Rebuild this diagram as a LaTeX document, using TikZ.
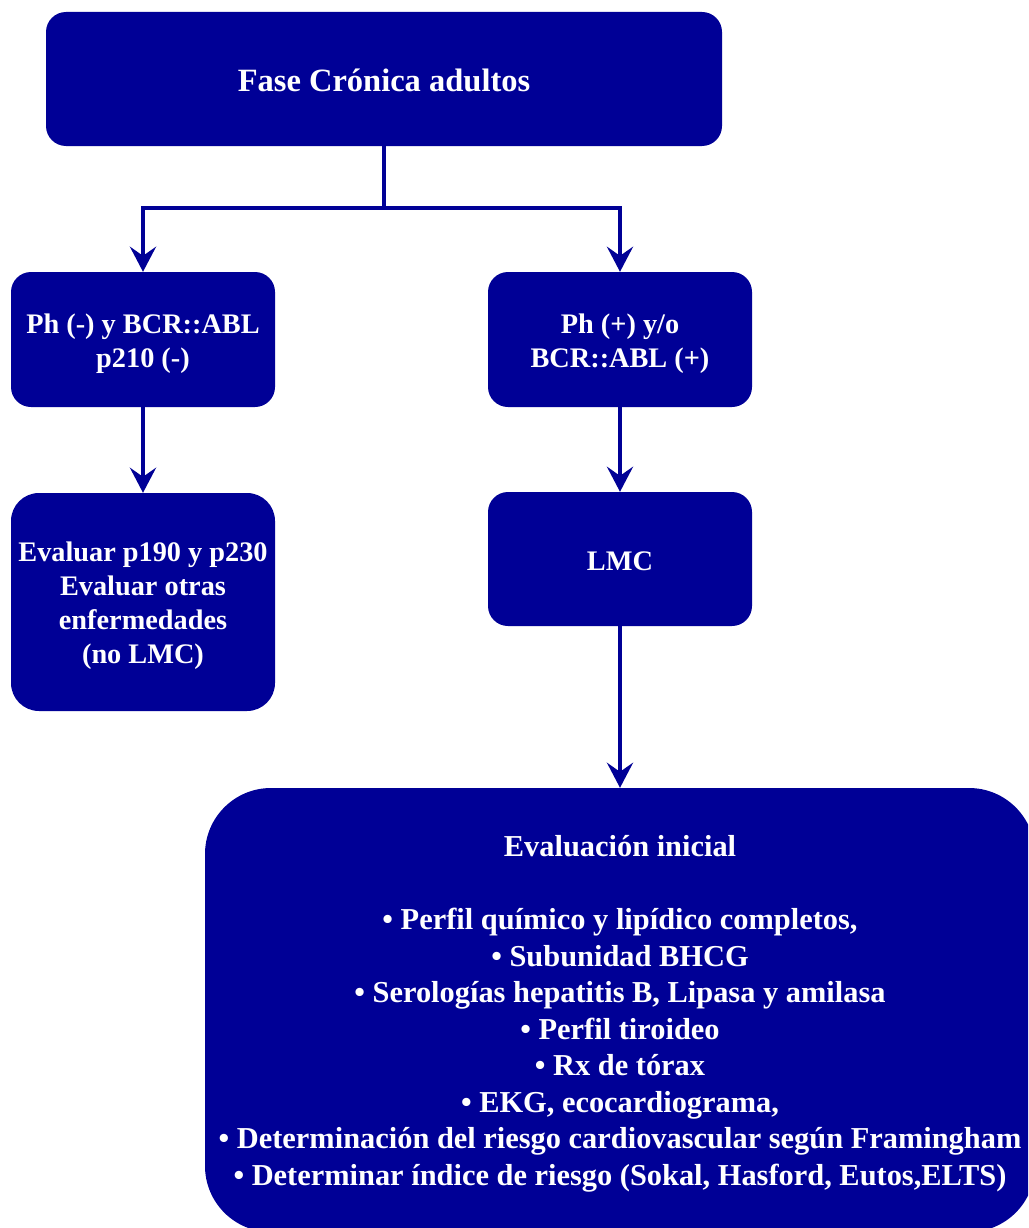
\documentclass[tikz,border=0pt]{standalone}
\usepackage{fontspec}
\setmainfont{Liberation Serif}
\usetikzlibrary{arrows.meta}
\definecolor{navy}{RGB}{0,0,150}
\begin{document}
\begin{tikzpicture}[x=1pt,y=-1pt,
  box/.style={draw=none,fill=navy,rounded corners=20pt,inner sep=0pt},
  txt/.style={text=white,align=center,font=\bfseries\fontsize{28.3}{34}\selectfont,inner sep=0pt,yshift=-4pt},
  arr/.style={-{Stealth[length=25pt,width=26pt,inset=9pt]}},
  conn/.style={draw=navy,line width=4pt}]
\useasboundingbox (0,0) rectangle (1028,1228);
\clip (0,0) rectangle (1028,1228);
\fill[white] (0,0) rectangle (1028,1228);
\node[box,minimum width=676pt,minimum height=134pt,
  label={[txt,font=\bfseries\fontsize{32.5}{38}\selectfont,yshift=3pt]center:Fase Crónica adultos}] (top) at (384,79) {};
\node[box,minimum width=264pt,minimum height=135pt,
  label={[txt]center:{Ph (-) y BCR::ABL\\p210 (-)}}] (l1) at (143,339.5) {};
\node[box,minimum width=264pt,minimum height=135pt,
  label={[txt]center:{Ph (+) y/o\\BCR::ABL (+)}}] (r1) at (620,339.5) {};
\node[box,minimum width=264pt,minimum height=218pt,rounded corners=28pt,
  label={[txt]center:{Evaluar p190 y p230\\Evaluar otras\\enfermedades\\(no LMC)}}] (l2) at (143,602) {};
\node[box,minimum width=264pt,minimum height=134pt,
  label={[txt,yshift=2pt]center:LMC}] (r2) at (620,559) {};
\node[box,minimum width=830pt,minimum height=444pt,rounded corners=66pt,
  label={[txt,font=\bfseries\fontsize{30.4}{36.5}\selectfont]center:{Evaluación inicial\\[36.5pt]
• Perfil químico y lipídico completos,\\
• Subunidad BHCG\\
• Serologías hepatitis B, Lipasa y amilasa\\
• Perfil tiroideo\\
• Rx de tórax\\
• EKG, ecocardiograma,\\
• Determinación del riesgo cardiovascular según Framingham\\
• Determinar índice de riesgo (Sokal, Hasford, Eutos,ELTS)}}] (ev) at (620,1010) {};
\coordinate (split) at (384,208);
\draw[conn] (top.south) -- (split);
\draw[conn,arr] (split) -| (l1.north);
\draw[conn,arr] (split) -| (r1.north);
\draw[conn,arr] (l1.south) -- (l2.north);
\draw[conn,arr] (r1.south) -- (r2.north);
\draw[conn,arr] (r2.south) -- (ev.north);
\end{tikzpicture}
\end{document}
